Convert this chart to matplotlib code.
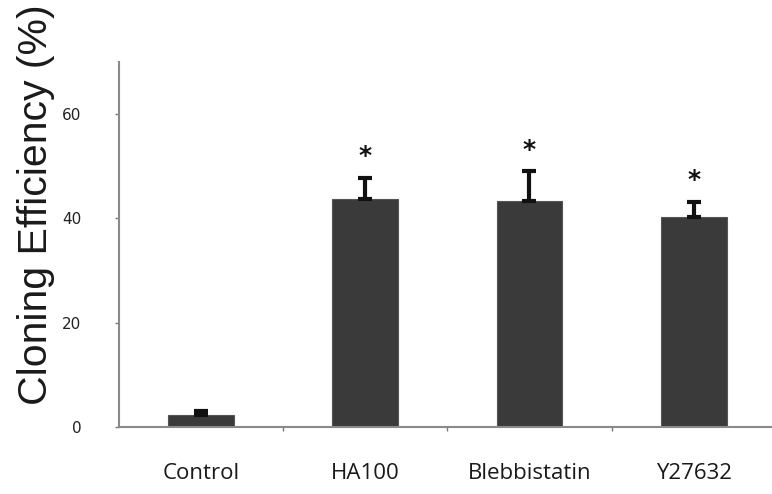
import matplotlib.pyplot as plt
import numpy as np

# Cloning efficiency per treatment (mean and upper error)
treatments = ["Control", "HA100", "Blebbistatin", "Y27632"]
efficiency = [2.3, 43.8, 43.3, 40.2]
error_up = [0.8, 3.9, 5.7, 2.9]
significant = [False, True, True, True]

fig = plt.figure(figsize=(7.72, 4.94), dpi=100)
ax = fig.add_axes([0.154, 0.1356, 0.851, 0.739])

x = np.arange(len(treatments))
bar_color = "#3a3a3a"
ax.bar(x, efficiency, width=0.4, color=bar_color, edgecolor="#555555",
       linewidth=0.8, zorder=2)
ax.errorbar(x, efficiency, yerr=[np.zeros(len(x)), error_up], fmt="none",
            ecolor="#111111", elinewidth=3, capsize=5, capthick=3, zorder=3)

# significance markers above the error bars
for xi, m, e, sig in zip(x, efficiency, error_up, significant):
    if sig:
        ax.text(xi, m + e + 4.2, "*", ha="center", va="center",
                fontsize=18, fontweight="bold", color="#111111")

ax.set_xlim(-0.5, 3.5)
ax.set_ylim(0, 70)
ax.set_yticks([0, 20, 40, 60])
ax.tick_params(axis="y", direction="out", length=3, width=1, color="#777777",
               pad=24, labelsize=11, labelcolor="#222222")

ax.set_xticks(x)
ax.set_xticklabels(treatments, fontfamily="Open Sans", fontsize=16,
                   color="#1a1a1a")
ax.tick_params(axis="x", length=0, pad=26)
ax.set_xticks([0.5, 1.5, 2.5], minor=True)
ax.tick_params(axis="x", which="minor", direction="out", length=3,
               width=1, color="#777777")

for side in ["top", "right"]:
    ax.spines[side].set_visible(False)
for side in ["left", "bottom"]:
    ax.spines[side].set_color("#8a8a8a")
    ax.spines[side].set_linewidth(1.5)

fig.text(0.047, 0.18, "Cloning Efficiency (%)", rotation=90, ha="center",
         va="bottom", fontsize=29.5, fontfamily="Liberation Sans",
         color="#1a1a1a")

fig.savefig("out.png", dpi=100)
